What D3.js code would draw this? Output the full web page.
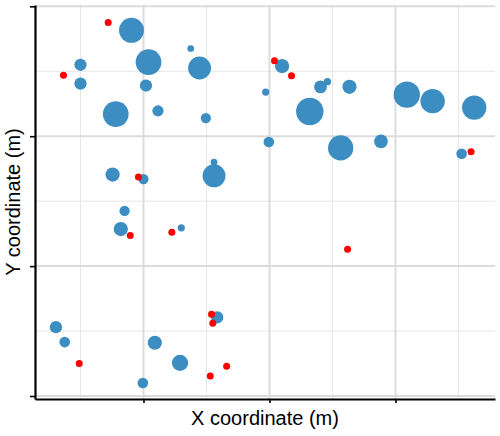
<!DOCTYPE html>
<html>
<head>
<meta charset="utf-8">
<script src="https://cdn.jsdelivr.net/npm/d3@7"></script>
<style>
  body { margin: 0; background: #fff; }
  svg { display: block; }
</style>
</head>
<body>
<div id="chart"></div>
<script>
// Blue circles: x, y (m) and size value
const treeX = [18.1, 27.5, 20.8, 28.9, 10.0, 10.0, 20.4, 15.6, 22.3, 29.9, 31.2, 31.2,
  15.1, 20.0, 17.0, 42.0, 39.4, 48.1, 49.2, 52.7, 46.4, 61.8, 65.9, 72.5,
  39.9, 51.3, 57.7, 70.5, 16.4, 26.0, 6.1, 7.5, 21.8, 25.8, 19.9, 31.7];
const treeY = [56.3, 53.5, 51.4, 50.5, 51.0, 48.1, 47.8, 43.4, 43.9, 42.8, 36.0, 33.9,
  34.1, 33.4, 28.5, 50.8, 46.8, 47.6, 48.4, 47.6, 43.8, 46.4, 45.4, 44.4,
  39.1, 38.2, 39.2, 37.3, 25.7, 25.9, 10.6, 8.3, 8.2, 5.1, 2.0, 12.1];
const treeSize = [83, 6, 88, 70, 20, 20, 20, 88, 17, 14, 6, 70,
  27, 14, 14, 27, 7, 22, 7, 27, 100, 92, 79, 79,
  15, 85, 25, 15, 27, 7, 20, 15, 27, 35, 15, 20];

// Red dots: x, y (m)
const dotX = [14.4, 7.3, 19.2, 40.8, 43.5, 72.0, 17.9, 24.5, 9.8, 30.8, 31.0, 33.2, 30.6, 52.4];
const dotY = [57.5, 49.4, 33.7, 51.6, 49.3, 37.6, 24.7, 25.2, 5.0, 12.6, 11.2, 4.6, 3.1, 22.6];

// Grid breaks
const xMajor = [20, 40, 60];
const xMinor = [10, 30, 50, 70];
const yMajor = [0, 20, 40, 60];
const yMinor = [10, 30, 50];

const width = 500;
const height = 436;
const margin = {top: 5, right: 5, bottom: 37, left: 35};
const innerWidth = width - margin.left - margin.right;
const innerHeight = height - margin.top - margin.bottom;

const svg = d3.select("#chart")
  .append("svg")
    .attr("width", width)
    .attr("height", height);

const innerChart = svg.append("g")
  .attr("transform", `translate(${margin.left}, ${margin.top})`);

const xScale = d3.scaleLinear()
  .domain([2.78, 75.8])
  .range([0, innerWidth]);

const yScale = d3.scaleLinear()
  .domain([-0.46, 60.2])
  .range([innerHeight, 0]);

const rScale = d3.scaleSqrt()
  .domain([0, 100])
  .range([0, 13.7]);

// Minor grid
innerChart.append("g")
  .selectAll("line")
  .data(xMinor)
  .join("line")
    .attr("x1", d => xScale(d)).attr("x2", d => xScale(d))
    .attr("y1", 0).attr("y2", innerHeight)
    .attr("stroke", "#e6e6e6").attr("stroke-width", 1);
innerChart.append("g")
  .selectAll("line")
  .data(yMinor)
  .join("line")
    .attr("y1", d => yScale(d)).attr("y2", d => yScale(d))
    .attr("x1", 0).attr("x2", innerWidth)
    .attr("stroke", "#e6e6e6").attr("stroke-width", 1);

// Major grid
innerChart.append("g")
  .selectAll("line")
  .data(xMajor)
  .join("line")
    .attr("x1", d => xScale(d)).attr("x2", d => xScale(d))
    .attr("y1", 0).attr("y2", innerHeight)
    .attr("stroke", "#dcdcdc").attr("stroke-width", 2);
innerChart.append("g")
  .selectAll("line")
  .data(yMajor)
  .join("line")
    .attr("y1", d => yScale(d)).attr("y2", d => yScale(d))
    .attr("x1", 0).attr("x2", innerWidth)
    .attr("stroke", "#dcdcdc").attr("stroke-width", 2);

// Blue circles
const trees = treeX.map((x, i) => ({x, y: treeY[i], size: treeSize[i]}));
innerChart.append("g")
  .selectAll("circle")
  .data(trees)
  .join("circle")
    .attr("cx", d => xScale(d.x))
    .attr("cy", d => yScale(d.y))
    .attr("r", d => rScale(d.size))
    .attr("fill", "#3589c0")
    .attr("fill-opacity", 0.97);

// Red dots
const dots = dotX.map((x, i) => ({x, y: dotY[i]}));
innerChart.append("g")
  .selectAll("circle")
  .data(dots)
  .join("circle")
    .attr("cx", d => xScale(d.x))
    .attr("cy", d => yScale(d.y))
    .attr("r", 3.5)
    .attr("fill", "#ff0000");

// Axes (no tick labels)
const bottomAxis = d3.axisBottom(xScale)
  .tickValues(xMajor)
  .tickFormat("")
  .tickSizeInner(4)
  .tickSizeOuter(0);
innerChart.append("g")
  .attr("transform", `translate(0, ${innerHeight})`)
  .call(bottomAxis);

const leftAxis = d3.axisLeft(yScale)
  .tickValues(yMajor)
  .tickFormat("")
  .tickSizeInner(5)
  .tickSizeOuter(0);
innerChart.append("g")
  .call(leftAxis);

svg.selectAll(".domain").attr("stroke", "#000").attr("stroke-width", 2.2);
svg.selectAll(".tick line").attr("stroke", "#000").attr("stroke-width", 1.6);

// Axis titles
svg.append("text")
  .text("X coordinate (m)")
  .attr("x", margin.left + innerWidth / 2)
  .attr("y", 425)
  .attr("text-anchor", "middle")
  .style("font-family", "Liberation Sans, Arial, sans-serif")
  .style("font-size", "20px")
  .attr("fill", "#000");

svg.append("text")
  .text("Y coordinate (m)")
  .attr("transform", `translate(20, ${margin.top + innerHeight / 2}) rotate(-90)`)
  .attr("text-anchor", "middle")
  .style("font-family", "Liberation Sans, Arial, sans-serif")
  .style("font-size", "20px")
  .attr("fill", "#000");
</script>
</body>
</html>
